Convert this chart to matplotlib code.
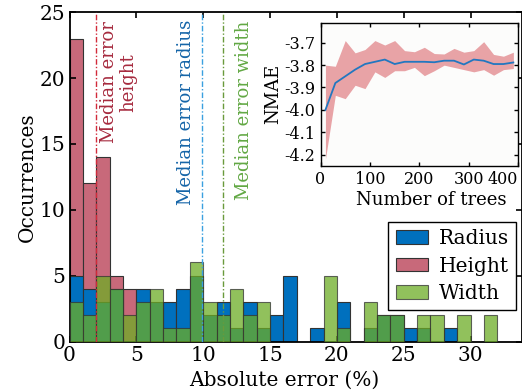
import numpy as np
import matplotlib.pyplot as plt

plt.rcParams['font.family'] = ['DejaVu Serif']

# histogram counts per 1% bin (0-1, 1-2, ...)
radius = [5, 4, 3, 4, 0, 4, 3, 3, 4, 5, 2, 3, 1, 3, 1, 2, 5, 0, 1, 0, 3, 0, 1, 2, 2, 1, 1, 0, 1, 0, 0, 0]
height = [23, 12, 14, 5, 4, 0, 0, 0, 0, 0, 0, 0, 0, 0, 0, 0, 0, 0, 0, 0, 0, 0, 0, 0, 0, 0, 0, 0, 0, 0, 0, 0]
width = [3, 2, 5, 4, 2, 3, 4, 1, 1, 6, 3, 2, 4, 2, 3, 0, 0, 0, 0, 5, 1, 0, 3, 2, 2, 0, 2, 2, 0, 2, 0, 2]
bin_left = np.arange(len(radius))

median_height = 1.95
median_radius = 9.9
median_width = 11.5

# inset: NMAE vs number of trees
trees = [10, 30, 50, 70, 90, 110, 130, 150, 170, 190, 210, 230, 250, 270, 290, 310, 330, 350, 370, 390]
nmae = [-4.00, -3.88, -3.85, -3.82, -3.795, -3.785, -3.775, -3.795, -3.785, -3.785,
        -3.785, -3.787, -3.78, -3.78, -3.797, -3.775, -3.78, -3.795, -3.795, -3.788]
nmae_hi = [-3.80, -3.805, -3.69, -3.745, -3.73, -3.69, -3.71, -3.69, -3.735, -3.74,
           -3.72, -3.748, -3.75, -3.725, -3.742, -3.735, -3.695, -3.752, -3.76, -3.742]
nmae_lo = [-4.22, -3.935, -3.95, -3.89, -3.905, -3.83, -3.855, -3.825, -3.825, -3.81,
           -3.847, -3.825, -3.80, -3.81, -3.82, -3.83, -3.82, -3.845, -3.82, -3.815]

c_radius = '#0070be'
c_height = '#c8697a'
c_width = '#6dad25'
edge = '#333333'

fig = plt.figure(figsize=(5.22, 3.9), dpi=100)
ax = fig.add_axes([69.5 / 522, 48.5 / 390, 452 / 522, 329.2 / 390])

ax.bar(bin_left, height, width=1, align='edge', color=c_height, edgecolor=edge, lw=0.8, zorder=1, label='Height')
ax.bar(bin_left, radius, width=1, align='edge', color=c_radius, edgecolor=edge, lw=0.8, zorder=2, label='Radius')
ax.bar(bin_left, width, width=1, align='edge', color=c_width, alpha=0.75, edgecolor=edge, lw=0.8, zorder=3, label='Width')

dashdot = (0, (4, 1.5, 1, 1.5))
ax.axvline(median_height, color='#d22a3a', lw=1, ls=dashdot, zorder=4)
ax.axvline(median_radius, color='#3aa0e0', lw=1, ls=dashdot, zorder=4)
ax.axvline(median_width, color='#6a9a3c', lw=1, ls=dashdot, zorder=4)

ax.text(2.28, 24.3, 'Median error\nheight', rotation=90, ha='left', va='top', multialignment='center',
        color='#a62a3e', fontsize=13, linespacing=1.1)
ax.text(9.39, 24.4, 'Median error radius', rotation=90, ha='right', va='top', color='#1565a8', fontsize=13)
ax.text(12.37, 24.4, 'Median error width', rotation=90, ha='left', va='top', color='#62a844', fontsize=13)

ax.set_xlim(0, 452 / 13.37)
ax.set_ylim(0, 25)
ax.set_xticks([0, 5, 10, 15, 20, 25, 30])
ax.set_yticks([0, 5, 10, 15, 20, 25])
ax.tick_params(direction='in', top=True, right=True, length=4, width=1.2, labelsize=14.5, pad=3)
for s in ax.spines.values():
    s.set_linewidth(1.3)
ax.set_xlabel('Absolute error (%)', fontsize=14.5, labelpad=2)
ax.xaxis.set_label_coords(0.475, -0.088)
ax.set_ylabel('Occurrences', fontsize=14.5, labelpad=2)

handles, labels = ax.get_legend_handles_labels()
order = [1, 0, 2]
leg = ax.legend([handles[i] for i in order], [labels[i] for i in order], loc='upper right',
                bbox_to_anchor=(516 / 522, (390 - 222) / 390), bbox_transform=fig.transFigure,
                fontsize=14.5, frameon=True, fancybox=False, edgecolor='black', framealpha=1,
                borderaxespad=0, borderpad=0.35, labelspacing=0.42, handlelength=1.6,
                handleheight=0.65, handletextpad=0.55)
leg.get_frame().set_linewidth(1)
leg.set_zorder(5)

# inset
ax2 = fig.add_axes([320.5 / 522, (390 - 165.7) / 390, 197.8 / 522, 143 / 390])
ax2.set_facecolor('#fcfcfb')
ax2.fill_between(trees, nmae_lo, nmae_hi, color='#e8a3a6', lw=0)
ax2.plot(trees, nmae, color='#2277c0', lw=1.3)
ax2.set_xlim(0, 400)
ax2.set_ylim(-4.25, -3.61)
ax2.set_xticks([0, 100, 200, 300, 400])
ax2.set_yticks([-4.2, -4.1, -4.0, -3.9, -3.8, -3.7])
ax2.set_yticklabels(['-4.2', '-4.1', '-4.0', '-3.9', '-3.8', '-3.7'])
ax2.tick_params(direction='in', top=True, right=True, length=3, width=1, labelsize=11.5, pad=4)
for s in ax2.spines.values():
    s.set_linewidth(1)
ax2.get_xticklabels()[-1].set_ha('right')
ax2.set_xlabel('Number of trees', fontsize=13)
ax2.xaxis.set_label_coords(0.56, -0.177)
ax2.set_ylabel('NMAE', fontsize=13, labelpad=1)

fig.savefig('out.png', dpi=100)
